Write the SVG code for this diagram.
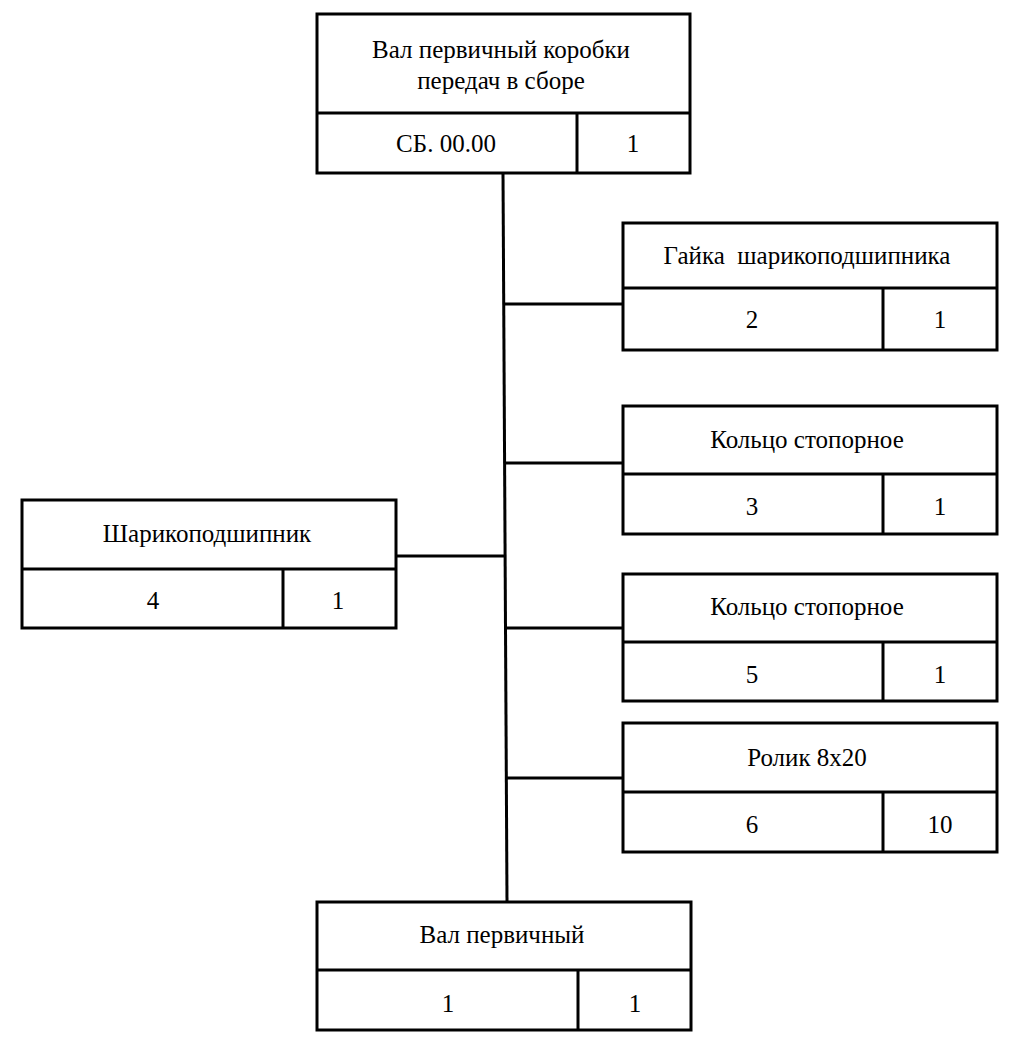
<svg xmlns="http://www.w3.org/2000/svg" width="1028" height="1044" viewBox="0 0 1028 1044">
<style>
.b{fill:#fff;stroke:#000;stroke-width:3}
.d{stroke:#000;stroke-width:3;fill:none}
.c{stroke:#000;stroke-width:3;fill:none}
text{font-family:'Liberation Serif',serif;font-size:25px;fill:#000;text-anchor:middle;white-space:pre}
</style>
<rect width="1028" height="1044" fill="#fff"/>
<g id="connectors">
<path class="c" d="M503 173 L507 902"/>
<path class="c" d="M504 304 H623"/>
<path class="c" d="M505 463 H623"/>
<path class="c" d="M506 628 H623"/>
<path class="c" d="M506 778 H623"/>
<path class="c" d="M396 556 H505"/>
</g>
<g id="n0">
<rect class="b" x="317" y="14" width="373" height="159"/>
<path class="d" d="M317 113 H690 M577 113 V173"/>
<text x="501" y="58">Вал первичный коробки</text>
<text x="501" y="89">передач в сборе</text>
<text x="446" y="152">СБ. 00.00</text>
<text x="633" y="152">1</text>
</g>
<g id="n1">
<rect class="b" x="623" y="223" width="374" height="127"/>
<path class="d" d="M623 288 H997 M883 288 V350"/>
<text x="807" y="264">Гайка  шарикоподшипника</text>
<text x="752" y="328">2</text>
<text x="940" y="328">1</text>
</g>
<g id="n2">
<rect class="b" x="623" y="406" width="374" height="128"/>
<path class="d" d="M623 474 H997 M883 474 V534"/>
<text x="807" y="448">Кольцо стопорное</text>
<text x="752" y="515">3</text>
<text x="940" y="515">1</text>
</g>
<g id="n3">
<rect class="b" x="623" y="574" width="374" height="127"/>
<path class="d" d="M623 642 H997 M883 642 V701"/>
<text x="807" y="615">Кольцо стопорное</text>
<text x="752" y="683">5</text>
<text x="940" y="683">1</text>
</g>
<g id="n4">
<rect class="b" x="623" y="723" width="374" height="129"/>
<path class="d" d="M623 792 H997 M883 792 V852"/>
<text x="807" y="766">Ролик 8х20</text>
<text x="752" y="833">6</text>
<text x="940" y="833">10</text>
</g>
<g id="n5">
<rect class="b" x="22" y="500" width="374" height="128"/>
<path class="d" d="M22 569 H396 M283 569 V628"/>
<text x="207" y="542">Шарикоподшипник</text>
<text x="153" y="609">4</text>
<text x="338" y="609">1</text>
</g>
<g id="n6">
<rect class="b" x="317" y="902" width="374" height="128"/>
<path class="d" d="M317 970 H691 M578 970 V1030"/>
<text x="502" y="943">Вал первичный</text>
<text x="448" y="1012">1</text>
<text x="635" y="1012">1</text>
</g>
</svg>
